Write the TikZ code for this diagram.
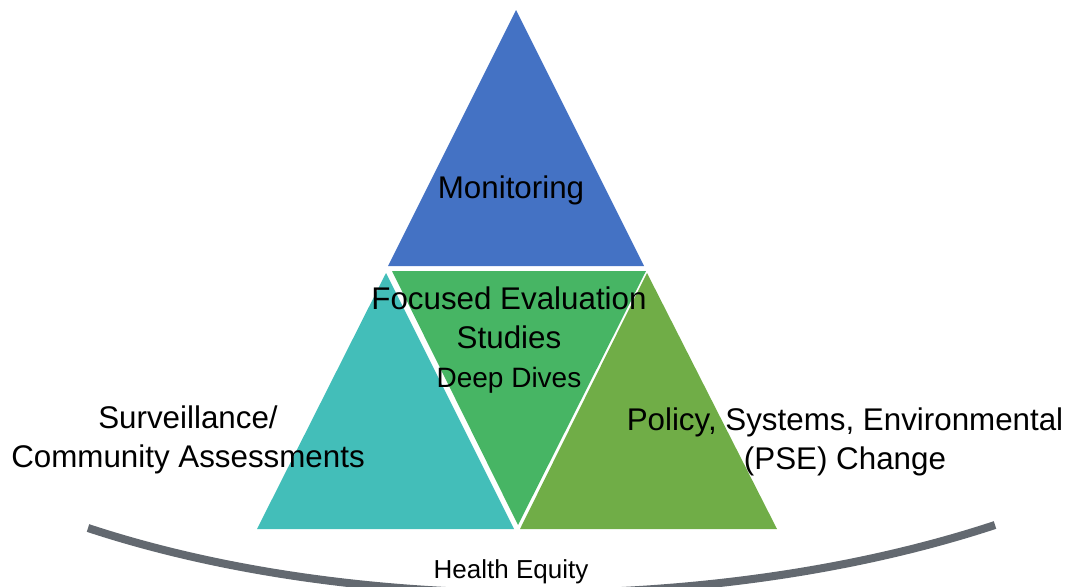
\documentclass[tikz,border=0pt]{standalone}
\usepackage{fontspec}
\setmainfont{Liberation Sans}
\definecolor{monblue}{HTML}{4472C4}
\definecolor{survteal}{HTML}{43BEB9}
\definecolor{fesgreen}{HTML}{47B564}
\definecolor{psegreen}{HTML}{70AD47}
\definecolor{arcgray}{HTML}{636970}

\begin{document}
\begin{tikzpicture}[x=0.75pt,y=-0.75pt,
    lbl/.style={align=center,inner sep=0pt,font=\fontsize{23.5}{29.5}\selectfont}]
    \useasboundingbox (0,0) rectangle (1067,586);

    \fill[monblue](516,10)--(644,266)--(388,266)--cycle;
    \fill[survteal](386,273)--(514,529)--(257,529)--cycle;
    \fill[fesgreen](392,271)--(646,271)--(518,525)--cycle;
    \fill[psegreen](647,273)--(777,529)--(520,529)--cycle;

    \draw[arcgray,line width=6pt](88,528) .. controls (358,617) and (725,614) .. (995,525);

    \node[lbl](mon) at (511,190){Monitoring};
    \node[lbl](fes) at (509,340){Focused Evaluation\\Studies\\{\fontsize{21}{29}\selectfont Deep Dives}};
    \node[lbl](surv) at (188,440){Surveillance/\\Community Assessments};
    \node[lbl](pse) at (845,442){Policy, Systems, Environmental\\(PSE) Change};
    \node[lbl,font=\fontsize{19.5}{24}\selectfont](heq) at (511,572){Health Equity};
\end{tikzpicture}
\end{document}
